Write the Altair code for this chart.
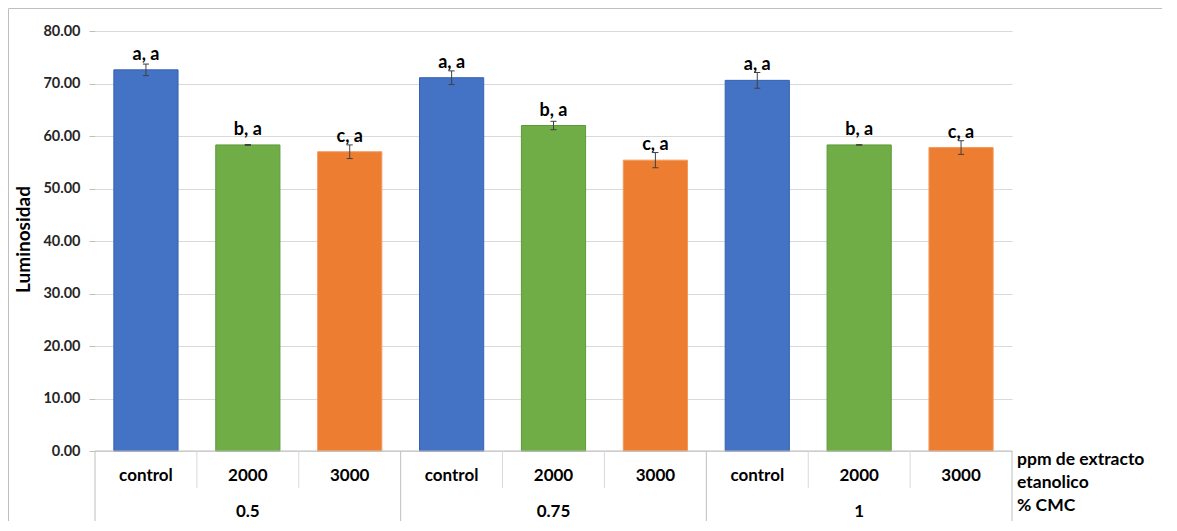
import altair as alt
import pandas as pd

# ---- data ----
cmc_groups = ["0.5", "0.75", "1"]
doses = ["control", "2000", "3000"]
luminosity = [72.6, 58.3, 57.0, 71.1, 62.0, 55.4, 70.6, 58.3, 57.8]
errors = [1.1, 0.08, 1.3, 1.3, 0.8, 1.45, 1.5, 0.05, 1.3]
letters = ["a, a", "b, a", "c, a", "a, a", "b, a", "c, a", "a, a", "b, a", "c, a"]
y_ticks = [0, 10, 20, 30, 40, 50, 60, 70, 80]
side_labels = ["ppm de extracto", "etanolico", "% CMC"]

colors = {"control": "#4472C4", "2000": "#70AD47", "3000": "#ED7D31"}
strokes = {"control": "#3561B0", "2000": "#5E9A3A", "3000": "#F39A5E"}

FONT = "Lato"
W, H = 917, 420

rows = []
for gi, g in enumerate(cmc_groups):
    for di, d in enumerate(doses):
        i = gi * 3 + di
        rows.append({"idx": i, "cmc": g, "dose": d, "lum": luminosity[i],
                     "err": errors[i], "lab": letters[i]})
df = pd.DataFrame(rows)

xs = alt.Scale(domain=[0, 9], nice=False, zero=False)
ys = alt.Scale(domain=[0, 80], nice=False)


def X(field):
    return alt.X(field, scale=xs, axis=None)


def Y(field):
    return alt.Y(field, scale=ys)


base = alt.Chart(df).transform_calculate(
    x1="datum.idx + 0.185", x2="datum.idx + 0.815", xc="datum.idx + 0.5",
    lo="datum.lum - datum.err", hi="datum.lum + datum.err",
    c1="datum.idx + 0.47", c2="datum.idx + 0.53", z0="0")

bars = base.mark_bar(strokeWidth=1).encode(
    x=X("x1:Q"),
    x2="x2:Q",
    y=alt.Y("lum:Q", scale=ys, axis=alt.Axis(
        values=y_ticks, format=".2f", title="Luminosidad",
        labelFont=FONT, labelFontSize=14.5, labelFontWeight="bold", labelColor="#262626",
        labelPadding=9, tickSize=6, tickColor="#bfbfbf", domain=False,
        gridColor="#d9d9d9", titleFont=FONT, titleFontSize=19, titleFontWeight="bold",
        titleColor="#000000", titleX=-72, titleY=H / 2 - 2, titleAngle=270,
        titleAlign="center", titleBaseline="middle")),
    y2="z0:Q",
    fill=alt.Color("dose:N", scale=alt.Scale(domain=doses, range=[colors[d] for d in doses]), legend=None),
    stroke=alt.Stroke("dose:N", scale=alt.Scale(domain=doses, range=[strokes[d] for d in doses]), legend=None),
)

err_rule = base.mark_rule(color="#404040", strokeWidth=1).encode(
    x=X("xc:Q"), y=Y("lo:Q"), y2="hi:Q")
cap_hi = base.mark_rule(color="#404040", strokeWidth=1).encode(
    x=X("c1:Q"), x2="c2:Q", y=Y("hi:Q"))
cap_lo = base.mark_rule(color="#404040", strokeWidth=1).encode(
    x=X("c1:Q"), x2="c2:Q", y=Y("lo:Q"))

labels = base.mark_text(font=FONT, fontSize=18, fontWeight="bold", color="#000000",
                        baseline="middle", dy=-15).encode(
    x=X("xc:Q"), y=Y("lum:Q"), text="lab:N")

# horizontal category axis line
axis_df = pd.DataFrame({"a": [0], "b": [9], "z": [0]})
axis_line = alt.Chart(axis_df).mark_rule(color="#bfbfbf", strokeWidth=1).encode(
    x=X("a:Q"), x2="b:Q", y=Y("z:Q"))

# separators of the two-level category axis
bounds = list(range(10))
sep_df = pd.DataFrame({"b": bounds, "major": [b % 3 == 0 for b in bounds]})
sep_minor = alt.Chart(sep_df).transform_filter("!datum.major").mark_rule(
    color="#d9d9d9", strokeWidth=1).encode(
    x=X("b:Q"), y=alt.value(H), y2=alt.value(H + 37))
sep_major = alt.Chart(sep_df).transform_filter("datum.major").mark_rule(
    color="#bfbfbf", strokeWidth=1).encode(
    x=X("b:Q"), y=alt.value(H), y2=alt.value(H + 80))

dose_text = base.mark_text(font=FONT, fontSize=17, fontWeight="bold", color="#000000",
                           baseline="middle").encode(
    x=X("xc:Q"), y=alt.value(H + 25), text="dose:N")

grp_df = pd.DataFrame({"g": cmc_groups, "gx": [1.5, 4.5, 7.5]})
grp_text = alt.Chart(grp_df).mark_text(font=FONT, fontSize=17, fontWeight="bold",
                                       color="#000000", baseline="middle").encode(
    x=X("gx:Q"), y=alt.value(H + 61), text="g:N")

side_df = pd.DataFrame({"t": side_labels, "k": [0, 1, 2]})
side_text = alt.Chart(side_df).transform_calculate(py=f"{H + 9} + datum.k * 23").mark_text(
    font=FONT, fontSize=17.5, fontWeight="bold", color="#000000",
    align="left", baseline="middle").encode(
    x=alt.value(W + 5), y=alt.Y("py:Q", scale=None, axis=None), text="t:N")

frame = alt.Chart(axis_df).mark_rect(fill=None, stroke="#bfbfbf", strokeWidth=1, clip=False).encode(
    x=alt.value(-86.5), x2=alt.value(1200), y=alt.value(-22.5), y2=alt.value(H + 95))

chart = alt.layer(
    frame, bars, axis_line, err_rule, cap_hi, cap_lo, labels,
    sep_minor, sep_major, dose_text, grp_text, side_text
).properties(
    width=W, height=H,
    background="white",
    autosize=alt.AutoSizeParams(type="none"),
    padding={"left": 87, "top": 23, "right": 150, "bottom": 70},
).configure_view(stroke=None, strokeWidth=0)

chart.save("out.html", embed_options={"renderer": "svg", "actions": False})
